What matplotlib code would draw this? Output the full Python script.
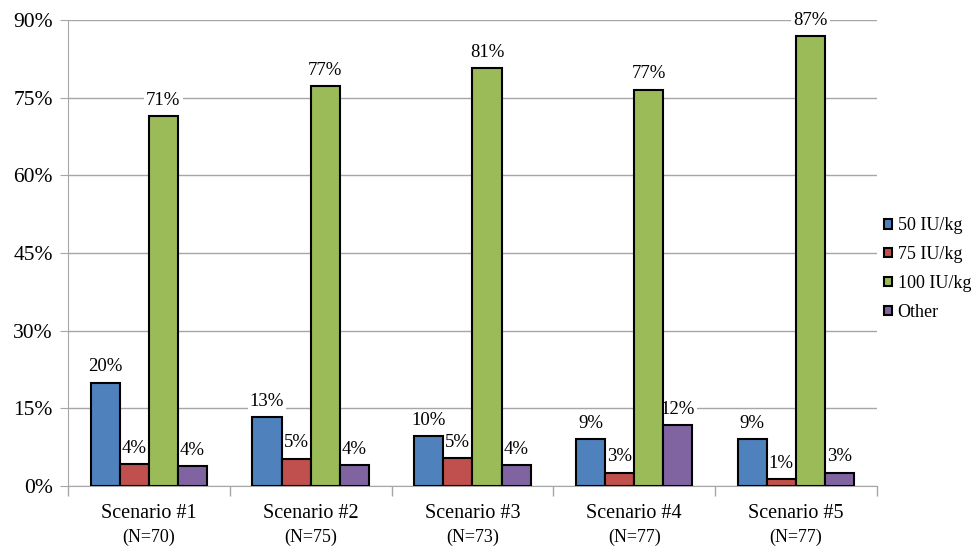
import matplotlib.pyplot as plt
import numpy as np
from matplotlib.ticker import FixedLocator, PercentFormatter

scenarios = ["Scenario #1", "Scenario #2", "Scenario #3", "Scenario #4", "Scenario #5"]
n_labels = ["(N=70)", "(N=75)", "(N=73)", "(N=77)", "(N=77)"]
series_names = ["50 IU/kg", "75 IU/kg", "100 IU/kg", "Other"]
colors = ["#4F81BD", "#C0504D", "#9BBB59", "#8064A2"]

dose_50 = [20.0, 13.3, 9.6, 9.1, 9.1]
dose_75 = [4.3, 5.3, 5.4, 2.6, 1.3]
dose_100 = [71.4, 77.3, 80.8, 76.6, 87.0]
other = [3.9, 4.0, 4.1, 11.7, 2.6]
series = [dose_50, dose_75, dose_100, other]

plt.rcParams['font.family'] = ['Liberation Serif', 'DejaVu Serif']

fig = plt.figure(figsize=(9.71, 5.47), dpi=100)
ax = fig.add_axes([0.070, 0.1115, 0.833, 0.8515])

x = np.arange(len(scenarios))
width = 0.18
for i, (vals, name, col) in enumerate(zip(series, series_names, colors)):
    pos = x + (i - 1.5) * width
    bars = ax.bar(pos, vals, width, color=col, edgecolor='black', linewidth=1.5,
                  label=name, zorder=3)
    # labels sit under the bars so their white box only hides the gridlines
    for b, v in zip(bars, vals):
        ax.text(b.get_x() + b.get_width() / 2, v + 1.4, f"{v:.0f}%",
                ha='center', va='bottom', fontsize=13.5, zorder=2,
                bbox=dict(facecolor='white', edgecolor='none', pad=1.5))

ax.set_xlim(-0.5, len(scenarios) - 0.5)
ax.set_ylim(0, 90)
ax.set_yticks(np.arange(0, 91, 15))
ax.yaxis.set_major_formatter(PercentFormatter(decimals=0))
ax.grid(axis='y', color='#A6A6A6', linewidth=1, zorder=0)

ax.set_xticks(x)
ax.set_xticklabels(scenarios, fontsize=14.5)
ax.xaxis.set_minor_locator(FixedLocator(np.arange(-0.5, len(scenarios), 1)))
ax.tick_params(axis='x', which='major', length=0, pad=13)
ax.tick_params(axis='x', which='minor', length=7, color='#A6A6A6', width=1)
ax.tick_params(axis='y', length=6, color='#A6A6A6', labelsize=15.5, pad=5)

for xi, nl in zip(x, n_labels):
    ax.annotate(nl, xy=(xi, 0), xycoords=('data', 'figure fraction'),
                xytext=(0, 1), textcoords='offset points',
                ha='center', va='bottom', fontsize=13)

for side in ['top', 'right']:
    ax.spines[side].set_visible(False)
for side in ['left', 'bottom']:
    ax.spines[side].set_color('#A6A6A6')

ax.legend(loc='center left', bbox_to_anchor=(1.0, 0.466), frameon=False,
          fontsize=13, handlelength=0.45, handleheight=0.45, handletextpad=0.3,
          labelspacing=0.66, borderaxespad=0.4, borderpad=0)

fig.savefig("out.png", dpi=100)
